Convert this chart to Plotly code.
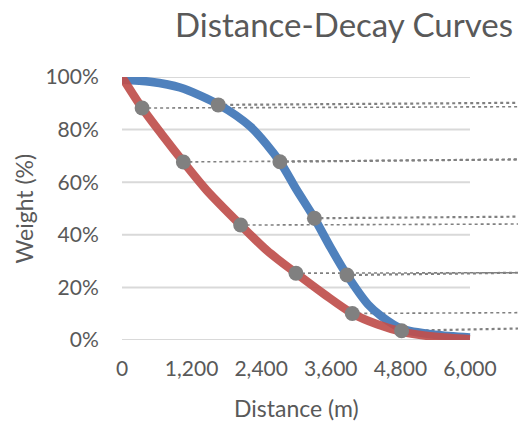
import plotly.graph_objects as go

# ---- data ----
red_curve_x = [0, 347, 700, 1058, 1457, 2046, 2500, 3000, 3500, 3971, 4400, 4821, 5400, 6000]
red_curve_y = [100, 88.2, 77.8, 67.7, 57.0, 43.7, 34.0, 25.4, 17.2, 10.1, 6.0, 3.2, 1.2, 0.3]

blue_curve_x = [0, 486, 1000, 1659, 2220, 2723, 3000, 3318, 3600, 3879, 4243, 4474, 4821, 5400, 6000]
blue_curve_y = [99.0, 98.2, 96.0, 89.6, 81.0, 67.8, 57.5, 46.3, 35.0, 24.7, 13.5, 9.0, 4.3, 2.0, 1.0]

red_pts_x = [347, 1058, 2046, 3000, 3971]
red_pts_y = [88.2, 67.7, 43.7, 25.4, 10.1]
red_guide_end_y = [88.7, 68.6, 44.1, 25.6, 10.4]

blue_pts_x = [1659, 2723, 3318, 3879, 4821]
blue_pts_y = [89.4, 67.8, 46.3, 24.7, 3.5]
blue_guide_end_y = [90.2, 68.7, 46.9, 25.6, 4.4]

guide_end_x = 6900

x_ticks = [0, 1200, 2400, 3600, 4800, 6000]
y_ticks = [0, 20, 40, 60, 80, 100]
y_tick_text = ["0%", "20%", "40%", "60%", "80%", "100%"]

title_text = "Distance-Decay Curves"
x_title = "Distance (m)"
y_title = "Weight (%)"

# ---- styling ----
FONT = "Lato"
TXT = "#595959"
BLUE = "#4F81BD"
RED = "#C0504D"
GRAY = "#808080"
GRID = "#D9D9D9"

X_MAX = 6828  # axis range so that 6000 sits at the plot's right gridline end

fig = go.Figure()

# dotted guides
for xs, ys, ye, w in [(red_pts_x, red_pts_y, red_guide_end_y, 1.6),
                      (blue_pts_x, blue_pts_y, blue_guide_end_y, 2.2)]:
    for x0, y0, y1 in zip(xs, ys, ye):
        fig.add_trace(go.Scatter(x=[x0, guide_end_x], y=[y0, y1], mode="lines",
                                 line=dict(color=GRAY, width=w, dash="dot"),
                                 hoverinfo="skip", showlegend=False))

fig.add_trace(go.Scatter(x=blue_curve_x, y=blue_curve_y, mode="lines",
                         line=dict(color=BLUE, width=8.5, shape="spline", smoothing=0.8),
                         showlegend=False))
fig.add_trace(go.Scatter(x=red_curve_x, y=red_curve_y, mode="lines",
                         line=dict(color=RED, width=8.5, shape="spline", smoothing=0.8),
                         opacity=0.92, showlegend=False))

fig.add_trace(go.Scatter(x=red_pts_x + blue_pts_x, y=red_pts_y + blue_pts_y, mode="markers",
                         marker=dict(color=GRAY, size=15, line=dict(width=0)),
                         showlegend=False))

# gridlines only across the axis span
for v in y_ticks:
    fig.add_shape(type="line", xref="x", yref="y", x0=0, x1=6000, y0=v, y1=v,
                  line=dict(color=GRID, width=2), layer="below")

fig.update_layout(
    width=518, height=425,
    margin=dict(l=122, r=0, t=77, b=85),
    paper_bgcolor="white", plot_bgcolor="white",
    font=dict(family=FONT, color=TXT),
    xaxis=dict(range=[0, X_MAX], tickvals=x_ticks, tickformat=",", showgrid=False,
               zeroline=False, showline=False, ticks="outside", ticklen=10,
               tickcolor="rgba(0,0,0,0)", tickfont=dict(size=21, color=TXT, family=FONT)),
    yaxis=dict(range=[0, 100], tickvals=y_ticks, ticktext=y_tick_text, showgrid=False,
               zeroline=False, showline=False, ticks="outside", ticklen=18,
               tickcolor="rgba(0,0,0,0)", tickfont=dict(size=21, color=TXT, family=FONT)),
    annotations=[
        dict(text=title_text, xref="paper", yref="paper", x=(343.5 - 122) / 396,
             y=(340 - 24) / 263, xanchor="center", yanchor="middle", showarrow=False,
             font=dict(size=33, color=TXT, family=FONT)),
        dict(text=x_title, xref="paper", yref="paper", x=(296 - 122) / 396,
             y=(340 - 408) / 263, xanchor="center", yanchor="middle", showarrow=False,
             font=dict(size=23, color=TXT, family=FONT)),
        dict(text=y_title, xref="paper", yref="paper", x=(23 - 122) / 396,
             y=0.5, xanchor="center", yanchor="middle", textangle=-90, showarrow=False,
             font=dict(size=23, color=TXT, family=FONT)),
    ],
)

fig.write_html("out.html")
